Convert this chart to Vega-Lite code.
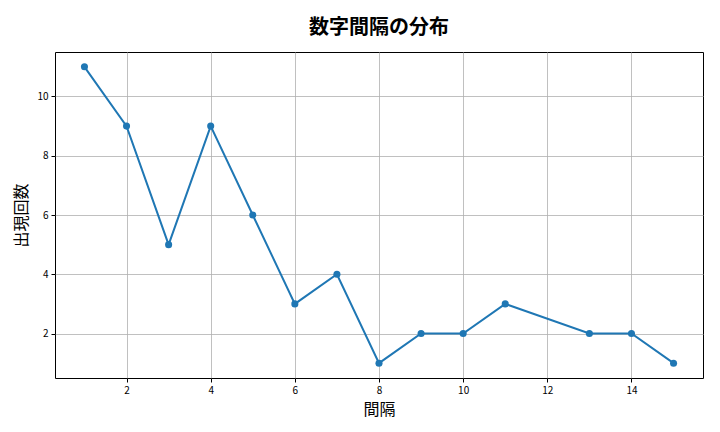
{
  "$schema": "https://vega.github.io/schema/vega-lite/v6.json",
  "autosize": {"type": "none"},
  "width": 648,
  "height": 326,
  "padding": {"left": 55, "top": 52, "right": 17, "bottom": 54},
  "background": "white",
  "config": {
    "font": "Noto Sans CJK JP",
    "view": {"stroke": "#000000", "strokeWidth": 1}
  },
  "title": {
    "text": "数字間隔の分布",
    "fontSize": 20,
    "fontWeight": "bold",
    "font": "Noto Sans CJK JP",
    "anchor": "middle",
    "offset": 14,
    "color": "#000000"
  },
  "data": {
    "values": [
      {"interval": 1, "count": 11},
      {"interval": 2, "count": 9},
      {"interval": 3, "count": 5},
      {"interval": 4, "count": 9},
      {"interval": 5, "count": 6},
      {"interval": 6, "count": 3},
      {"interval": 7, "count": 4},
      {"interval": 8, "count": 1},
      {"interval": 9, "count": 2},
      {"interval": 10, "count": 2},
      {"interval": 11, "count": 3},
      {"interval": 13, "count": 2},
      {"interval": 14, "count": 2},
      {"interval": 15, "count": 1}
    ]
  },
  "encoding": {
    "x": {
      "field": "interval",
      "type": "quantitative",
      "scale": {"domain": [0.3, 15.7], "nice": false, "zero": false},
      "axis": {
        "title": "間隔",
        "titleFontSize": 16,
        "titleFontWeight": "normal",
        "titleColor": "#000000",
        "titlePadding": 6,
        "values": [2, 4, 6, 8, 10, 12, 14],
        "labelFontSize": 10,
        "labelColor": "#000000",
        "tickColor": "#000000",
        "tickSize": 4,
        "labelPadding": 3,
        "domain": false,
        "grid": true,
        "gridColor": "#b0b0b0",
        "gridWidth": 0.8
      }
    },
    "y": {
      "field": "count",
      "type": "quantitative",
      "scale": {"domain": [0.5, 11.5], "nice": false, "zero": false},
      "axis": {
        "title": "出現回数",
        "titleFontSize": 16,
        "titleFontWeight": "normal",
        "titleColor": "#000000",
        "titlePadding": 7,
        "values": [2, 4, 6, 8, 10],
        "labelFontSize": 10,
        "labelColor": "#000000",
        "tickColor": "#000000",
        "tickSize": 4,
        "labelPadding": 3,
        "domain": false,
        "grid": true,
        "gridColor": "#b0b0b0",
        "gridWidth": 0.8
      }
    }
  },
  "layer": [
    {"mark": {"type": "line", "color": "#1f77b4", "strokeWidth": 2}},
    {"mark": {"type": "point", "filled": true, "color": "#1f77b4", "opacity": 1, "size": 50}}
  ]
}
